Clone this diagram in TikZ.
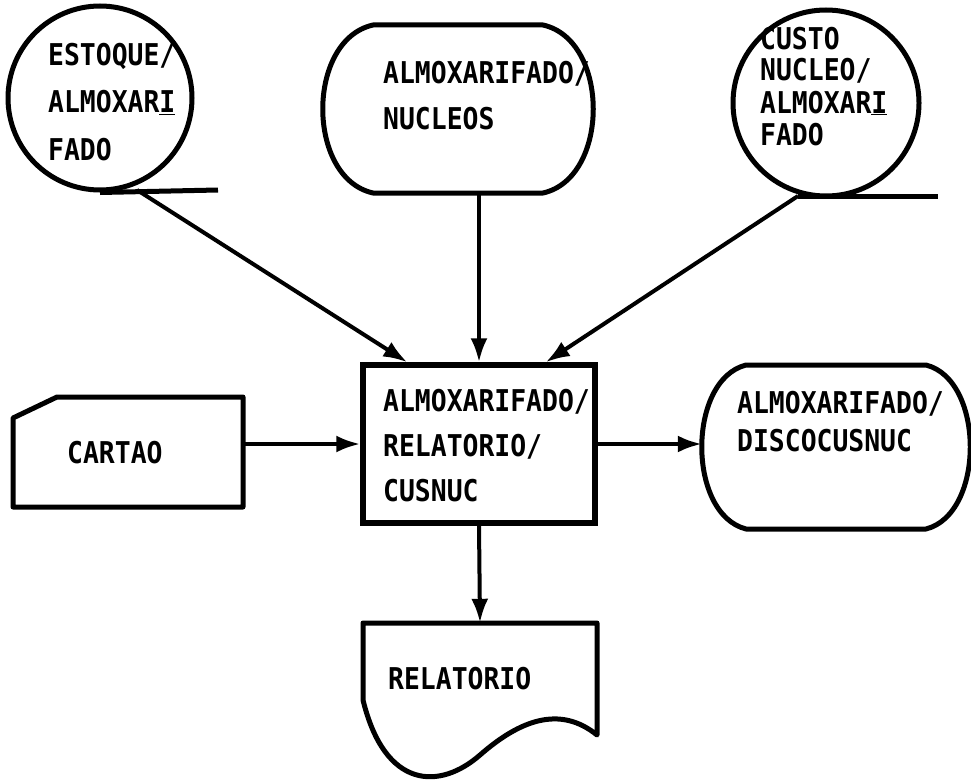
\documentclass[tikz,border=0pt]{standalone}
\usepackage{fontspec}
\newfontfamily\typefont[FakeStretch=0.88]{DejaVu Sans Mono}
\usetikzlibrary{arrows.meta,calc,positioning}
\newcommand{\flowwidth}{4pt}
\newcommand{\boxwidth}{5.5pt}

\begin{document}
\begin{tikzpicture}[x=1pt, y=-1pt,
    outl/.style={line width=5pt, line join=round},
    flow/.style={-{Latex[length=24pt,width=17pt]}, line width=\flowwidth},
    slot/.style={rectangle, inner sep=0pt},
    txt/.style={font=\typefont\bfseries\fontsize{30}{45}\selectfont, align=left, inner sep=0pt, anchor=base west}]
	\useasboundingbox (0,0) rectangle (971,781);
	% Files (tapes):
	\node[outl, draw, circle, minimum size=184pt, inner sep=0pt] (estoque) at (100,98) {};
	\node[outl, draw, circle, minimum size=186pt, inner sep=0pt] (custo) at (826,103) {};
	\coordinate (estoque-out) at (137,190);
	\coordinate (custo-out) at (798,196);
	\draw[outl] (estoque.south) -- (218,190);
	\draw[outl] (custo-out) -- (938,196);
	% Terminals:
	\node[slot, minimum width=270pt, minimum height=168pt] (nucleos) at (458,109) {};
	\node[slot, minimum width=268pt, minimum height=165pt] (disco) at (836,447) {};
	\draw[outl, shift={(458,109)}] (-85,-84) -- (85,-84) .. controls (152,-69) and (152,69) .. (85,84)
		-- (-85,84) .. controls (-152,69) and (-152,-69) .. (-85,-84) -- cycle;
	\draw[outl, shift={(836,447)}] (-90,-82) -- (90,-82) .. controls (149,-67) and (149,67) .. (90,82)
		-- (-90,82) .. controls (-149,67) and (-149,-67) .. (-90,-82) -- cycle;
	% Card, process and report:
	\node[slot, minimum width=230pt, minimum height=110pt] (cartao) at (128,452) {};
	\draw[outl] (13,418) -- (57,397) -- (243,397) -- (243,507) -- (13,507) -- cycle;
	\node[draw, line width=\boxwidth, minimum width=232pt, minimum height=158pt] (proc) at (479,444) {};
	\node[slot, minimum width=234pt, minimum height=112pt] (relat) at (480,679) {};
	\draw[outl] (363,623) -- (597,623) -- (597,735) .. controls (560,705) and (520,720) .. (480,755)
		.. controls (440,790) and (385,790) .. (363,700) -- cycle;
	% Labels (anchored at the last baseline):
	\node[txt, font=\typefont\bfseries\fontsize{30}{47}\selectfont] (estoque-t) at (48,160) {ESTOQUE/\\ALMOXAR\underline{I}\\FADO};
	\node[txt, font=\typefont\bfseries\fontsize{30}{32}\selectfont] (custo-t) at (760,145) {CUSTO\\NUCLEO/\\ALMOXAR\underline{I}\\FADO};
	\node[txt, font=\typefont\bfseries\fontsize{30}{46}\selectfont] (nucleos-t) at (383,129) {ALMOXARIFADO/\\NUCLEOS};
	\node[txt] (proc-t) at (383,501) {ALMOXARIFADO/\\RELATORIO/\\CUSNUC};
	\node[txt] (cartao-t) at (67,463) {CARTAO};
	\node[txt, font=\typefont\bfseries\fontsize{30}{38}\selectfont] (disco-t) at (737,451) {ALMOXARIFADO/\\DISCOCUSNUC};
	\node[txt] (relat-t) at (388,689) {RELATORIO};
	% Flows:
	\draw[flow] (estoque-out) -- ($(proc.north west)+(47,0)$);
	\draw[flow] (custo-out) -- ($(proc.north east)+(-52,0)$);
	\draw[flow] (proc.north |- nucleos.south) -- (proc.north);
	\draw[flow] (cartao.east |- proc.west) -- (proc.west);
	\draw[flow] (proc.east) -- (proc.east -| disco.west);
	\draw[flow] (proc.south) -- (relat.north);
\end{tikzpicture}
\end{document}
